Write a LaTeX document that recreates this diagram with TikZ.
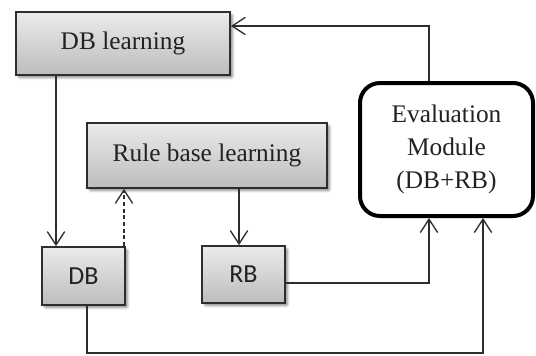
\documentclass[tikz,border=0pt]{standalone}
\usepackage{fontspec}
\setmainfont{Liberation Serif}
\newfontfamily\boxsans{Carlito}
\usetikzlibrary{arrows.meta,shadows.blur,calc}
\definecolor{linec}{HTML}{2E2E2E}
\definecolor{txtc}{HTML}{222222}
\tikzset{
  grad/.style={draw=linec, line width=1.3pt, top color=white!92!black, bottom color=white!74!black,
    shading angle=0, text=txtc,
    blur shadow={shadow xshift=2pt, shadow yshift=-2pt, shadow blur steps=6, shadow blur extra rounding=1pt, shadow opacity=45},
    inner sep=0pt},
  serif/.style={font=\fontsize{19}{24.75}\selectfont},
  sans/.style={font=\boxsans\fontsize{19.5}{24}\selectfont},
  evalbox/.style={draw=black, line width=3pt, rounded corners=15pt, fill=white, text=txtc,
    align=center, font=\fontsize{19}{24.75}\selectfont},
  conn/.style={draw=linec, line width=1pt},
  arr/.style={conn, -{Straight Barb[length=10pt,width=13pt,line width=1pt]}}
}
\begin{document}
\begin{tikzpicture}[x=0.75pt,y=-0.75pt]
\useasboundingbox (0,0) rectangle (536,355);

% boxes
\node[grad, serif, minimum width=160.5pt, minimum height=47.25pt] (dbl) at (123,43.5) {DB learning};
\node[grad, serif, minimum width=180pt, minimum height=48.75pt] (rule) at (207,155.5) {Rule base learning};
\node[grad, sans, minimum width=62.25pt, minimum height=43.5pt] (db) at (83.5,276) {DB};
\node[grad, sans, minimum width=62.25pt, minimum height=42.75pt] (rb) at (243.5,274.5) {RB};
\node[evalbox, minimum width=129.75pt, minimum height=99.75pt] (eval) at (446.5,149.5)
  {Evaluation\\Module\\(DB+RB)};

% routing guides
\coordinate (xdbl) at (56,0);
\coordinate (xdash) at (124,0);
\coordinate (xrule) at (239,0);
\coordinate (xdbout) at (87,0);
\coordinate (xevl) at (429,0);
\coordinate (xevr) at (483,0);
\coordinate (ytop) at (0,26);
\coordinate (yrb) at (0,283);
\coordinate (ybot) at (0,353);

% connectors
\draw[arr] (xdbl |- dbl.south) -- (xdbl |- db.north);
\draw[arr, dashed, dash pattern=on 3pt off 2pt] (xdash |- db.north) -- (xdash |- rule.south);
\draw[arr] (xrule |- rule.south) -- (xrule |- rb.north);
\draw[arr] (rb.east |- yrb) -| (xevl |- eval.south);
\draw[arr] (xdbout |- db.south) |- (xevr |- ybot) -- (xevr |- eval.south);
\draw[arr] (xevl |- eval.north) |- (dbl.east |- ytop);
\end{tikzpicture}
\end{document}
